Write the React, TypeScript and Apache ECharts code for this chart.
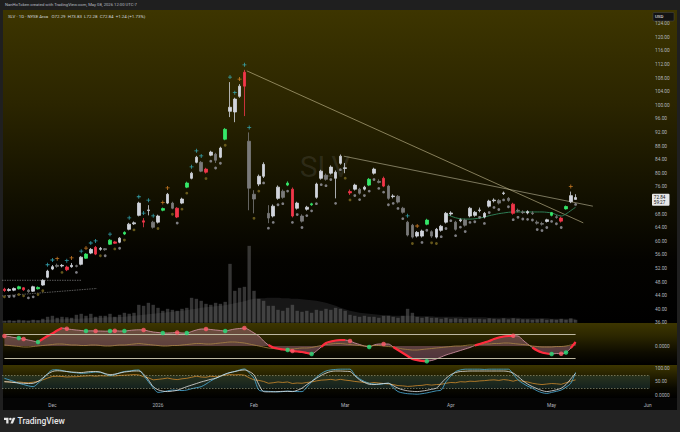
import { useEffect, useRef } from "react";
import * as echarts from "echarts";

// ---- calendar -------------------------------------------------------------
// 135 daily slots: Nov 14 2025 .. Jun 2 2026 (the last ones stay empty)
const SLOTS = 135;
const holidays = ["2025-11-27", "2025-12-25", "2026-01-01", "2026-01-19", "2026-02-16", "2026-04-03", "2026-05-25"];
const monthNames = ["Jan", "Feb", "Mar", "Apr", "May", "Jun", "Jul", "Aug", "Sep", "Oct", "Nov", "Dec"];

function tradingDays(first: string, count: number): string[] {
  const out: string[] = [];
  const d = new Date(first + "T00:00:00Z");
  while (out.length < count) {
    const iso = d.toISOString().slice(0, 10);
    const wd = d.getUTCDay();
    if (wd !== 0 && wd !== 6 && !holidays.includes(iso)) out.push(iso);
    d.setUTCDate(d.getUTCDate() + 1);
  }
  return out;
}
const dates = tradingDays("2025-11-14", SLOTS);

// ---- price data: [open, high, low, close] ---------------------------------
const ohlc = [
  [45.9, 46.3, 45.1, 45.5], [45.5, 46.2, 45.2, 45.8], [45.6, 46.4, 45.3, 46.1], [46.0, 46.9, 45.8, 46.6], [46.3, 46.5, 45.4, 45.7],
  [45.6, 45.9, 44.8, 45.2], [45.3, 46.9, 45.1, 46.6], [46.0, 46.7, 45.8, 46.4], [47.1, 48.8, 46.9, 48.5], [49.4, 51.6, 49.1, 51.2],
  [51.8, 53.0, 51.5, 52.5], [52.9, 53.4, 52.2, 52.6], [52.7, 53.3, 52.3, 52.9], [52.4, 52.8, 51.2, 51.6], [52.5, 53.6, 52.2, 52.9],
  [52.8, 53.1, 52.3, 52.6], [53.2, 55.6, 52.9, 55.3], [55.0, 56.5, 54.8, 56.2], [56.5, 58.0, 56.2, 57.6], [58.2, 58.6, 55.9, 56.2],
  [57.6, 58.3, 57.2, 57.9], [57.8, 58.0, 57.2, 57.5], [59.1, 60.6, 58.9, 60.3], [59.8, 60.1, 59.2, 59.4], [59.7, 61.2, 59.4, 60.9],
  [62.1, 62.9, 61.8, 62.6], [63.5, 65.4, 63.2, 65.0], [65.1, 65.8, 64.8, 65.4], [67.6, 71.6, 67.3, 71.2], [66.0, 66.8, 64.1, 65.6],
  [69.0, 70.6, 67.6, 69.2], [65.6, 66.0, 63.7, 64.1], [65.6, 67.8, 65.2, 67.4], [69.1, 69.9, 68.8, 69.6], [71.2, 74.2, 70.9, 73.8],
  [71.2, 71.6, 69.4, 69.7], [69.7, 70.0, 66.8, 67.1], [71.2, 72.8, 70.9, 72.4], [75.9, 77.5, 75.6, 77.1], [78.5, 80.4, 78.2, 80.0],
  [83.2, 85.1, 82.9, 84.7], [83.2, 83.6, 80.3, 80.6], [81.2, 81.6, 79.9, 80.3], [85.3, 86.6, 85.0, 86.2], [85.6, 86.0, 83.0, 83.8],
  [84.7, 87.8, 84.4, 87.4], [90.0, 93.3, 89.7, 92.9], [98.2, 106.8, 96.5, 99.4], [98.0, 102.2, 95.0, 101.8], [102.6, 106.2, 102.2, 105.6],
  [109.7, 110.4, 96.8, 105.6], [89.4, 92.0, 69.1, 75.6], [73.8, 75.0, 68.2, 72.4], [76.8, 79.6, 76.2, 79.1], [79.1, 83.2, 78.6, 82.6],
  [68.2, 70.6, 65.3, 66.8], [67.4, 70.8, 67.0, 70.3], [72.6, 76.4, 72.2, 75.9], [74.7, 75.2, 72.5, 72.9], [76.5, 77.6, 76.2, 77.1],
  [75.3, 75.8, 67.0, 67.4], [69.7, 71.6, 69.3, 71.2], [67.4, 67.9, 65.5, 65.9], [69.4, 70.4, 69.0, 70.0], [70.7, 71.3, 70.4, 71.0],
  [72.9, 77.2, 72.5, 76.8], [78.5, 81.0, 78.1, 80.6], [79.4, 79.9, 77.8, 78.2], [80.0, 82.3, 79.6, 81.8], [78.5, 80.8, 72.6, 80.3],
  [82.9, 85.5, 82.5, 85.0], [81.4, 83.0, 80.0, 81.6], [74.6, 75.2, 73.6, 74.2], [75.3, 76.9, 74.9, 76.5], [75.3, 75.7, 73.7, 74.1],
  [75.3, 76.3, 74.9, 75.9], [76.5, 78.6, 76.2, 78.2], [80.0, 81.6, 79.6, 81.2], [77.6, 78.2, 77.0, 77.3], [78.5, 79.0, 75.9, 76.2],
  [76.2, 76.6, 72.2, 72.6], [73.1, 73.8, 72.6, 73.3], [73.2, 73.6, 71.1, 71.5], [69.7, 70.1, 68.1, 68.5], [65.6, 66.0, 61.4, 61.8],
  [64.7, 65.1, 60.8, 61.2], [61.5, 63.0, 61.1, 62.6], [61.5, 63.4, 61.1, 63.0], [65.0, 66.6, 64.7, 66.2], [62.8, 63.2, 61.0, 61.5],
  [61.2, 63.9, 60.8, 63.5], [63.2, 64.8, 62.8, 64.4], [65.6, 68.6, 65.2, 68.2], [68.0, 68.8, 67.5, 68.3], [65.6, 66.0, 63.1, 63.5],
  [66.0, 66.7, 65.6, 66.3], [66.2, 66.6, 64.3, 64.7], [67.4, 70.1, 67.0, 69.7], [67.6, 68.9, 67.2, 68.5], [69.0, 69.9, 68.5, 69.2],
  [67.1, 68.6, 66.7, 68.2], [70.3, 72.2, 69.9, 71.8], [71.9, 72.6, 71.4, 72.1], [72.0, 72.4, 70.8, 71.2], [74.0, 74.6, 73.6, 74.2],
  [72.6, 73.0, 71.6, 72.0], [70.9, 71.3, 67.8, 68.2], [69.1, 69.6, 68.5, 68.9], [68.6, 69.1, 68.0, 68.4], [68.3, 69.1, 67.9, 68.7],
  [68.3, 68.8, 67.7, 68.1], [65.6, 66.1, 64.9, 65.3], [65.2, 65.7, 64.6, 65.0], [65.8, 66.6, 65.5, 66.3], [67.6, 68.6, 67.3, 68.4],
  [67.2, 67.7, 66.6, 67.0], [66.8, 67.2, 65.5, 65.9], [69.5, 70.5, 69.3, 70.2], [71.6, 74.6, 71.2, 73.4], [72.29, 73.83, 72.28, 72.84],
];

// bars flagged by the signal study (also the dots in the oscillator pane)
const bullBars = [3, 7, 17, 22, 25, 33, 38, 46, 59, 64, 76, 88, 114, 117];
const bearBars = [0, 4, 13, 19, 23, 29, 36, 42, 50, 60, 72, 79, 106, 116];

// markers drawn by the study above highs / below lows
const tealCrosses = [9, 10, 13, 16, 18, 19, 22, 26, 28, 29, 30, 31, 39, 40, 41, 47, 48, 50, 51, 84];
const orangeCrosses = [11, 14, 17, 33, 34, 49, 86, 118];
const oliveDots = [0, 3, 4, 7, 8, 12, 20, 23, 25, 27, 32, 35, 37, 38, 42, 46, 52, 53, 71, 72, 85, 89, 90];
const grayDots = [
  1, 2, 5, 6, 15, 21, 24, 36, 43, 44, 45, 54, 55, 56, 57, 58, 59, 60, 61, 62, 63, 64, 65, 66, 67, 68, 69, 70,
  73, 74, 75, 76, 77, 78, 79, 80, 81, 82, 83, 87, 88, 91, 92, 93, 94, 95, 96, 97, 98, 99, 100, 101, 102, 103,
  104, 105, 106, 107, 108, 109, 110, 111, 112, 113, 114, 115, 116, 119,
];

// volume, millions of shares
const volume = [
  4, 5, 4, 6, 5, 4, 6, 5, 8,
  12, 14, 10, 12, 11, 10, 16, 18, 14, 18, 12, 14,
  14, 18, 12, 16, 20, 18, 20,
  36, 34, 40, 36, 30,
  24, 28, 26, 24, 28, 30,
  50, 48, 44,
  38, 36, 40, 38,
  42, 118, 64, 70, 72, 154, 64, 48, 44, 34, 34, 26, 24, 30, 36,
  24, 22, 24, 20, 26, 24, 28, 26, 30, 28, 24,
  16, 14, 12, 14, 12, 12, 10, 14, 14, 12, 10, 14,
  28, 20,
  12, 10, 12, 10, 10, 8, 10, 8, 9, 8, 8, 9, 8, 8, 7, 9, 8, 7, 9, 7, 9, 8, 7, 7, 6, 7, 8, 6, 7, 6, 8, 6, 9, 6,
];
const volumeAvg = [
  4, 4, 4, 4.5, 4.5, 5, 5, 5, 5.5, 6,
  6.5, 7, 7, 7.5, 8, 8, 8.5, 9, 9.5, 10,
  10, 10.5, 11, 11, 11.5, 12, 13, 14, 15, 16,
  17, 18, 19, 20, 21, 22, 23, 24, 25, 27,
  28, 30, 31, 32, 33, 34, 35, 37, 39, 41,
  43, 46, 48, 49, 49, 50, 50, 50, 49, 49,
  48, 48, 47, 46, 45, 44, 42, 40, 37, 34,
  30, 27, 24, 22, 20, 19, 18, 17, 16, 15,
  15, 14, 14, 14, 14, 14, 13, 13, 13, 13,
  12, 12, 12, 12, 12, 12, 11, 11, 11, 11,
  11, 10, 10, 10, 10, 10, 10, 10, 9, 9,
  9, 9, 9, 9, 8, 8, 8, 8, 8, 8,
];

// short moving average shown from April on
const aprilAvgStart = 92;
const aprilAvg = [
  68.0, 67.4, 66.9, 66.6, 66.5, 66.5, 66.6, 66.8, 67.1, 67.5,
  67.8, 68.1, 68.3, 68.5, 68.6, 68.6, 68.6, 68.6, 68.6, 68.6,
  68.6, 68.5, 68.3, 67.8, 67.4, 68.0, 69.0, 70.0,
];

// hand-drawn lines: [bar index, price]
const trendFromTop = [[50.5, 110.1], [120.6, 65.4]];
const trendFromMar = [[70.7, 85.0], [122.6, 70.3]];
const novShelf = [[-0.5, 48.5], [16, 48.5]];
const novBase = [[-0.5, 43.9], [19.3, 46.1]];

// ---- oscillator pane ------------------------------------------------------
const osc = [
  1.0, 0.95, 0.85, 0.8, 0.7, 0.6, 0.5, 0.4, 0.7, 1.0,
  1.25, 1.55, 1.8, 1.72, 1.65, 1.6, 1.55, 1.5, 1.52, 1.5,
  1.5, 1.48, 1.5, 1.52, 1.5, 1.5, 1.55, 1.6, 1.62, 1.6,
  1.5, 1.4, 1.35, 1.3, 1.3, 1.32, 1.35, 1.3, 1.3, 1.45,
  1.6, 1.7, 1.7, 1.65, 1.6, 1.55, 1.5, 1.6, 1.7, 1.75,
  1.8, 1.6, 1.3, 1.0, 0.5, 0.1, -0.15, -0.25, -0.35, -0.4,
  -0.5, -0.55, -0.6, -0.7, -0.8, -0.5, -0.1, 0.3, 0.45, 0.55,
  0.6, 0.6, 0.5, 0.3, 0.15, 0.0, -0.1, 0.1, 0.2, 0.2,
  0.2, -0.1, -0.4, -0.7, -1.0, -1.3, -1.42, -1.5, -1.52, -1.45,
  -1.3, -1.1, -0.9, -0.75, -0.6, -0.45, -0.3, -0.15, 0.05, 0.2,
  0.35, 0.5, 0.7, 0.85, 0.95, 1.0, 1.02, 1.0, 0.6, 0.2,
  -0.15, -0.45, -0.65, -0.75, -0.8, -0.75, -0.78, -0.65, -0.2, 0.4,
];
const oscSignal = [
  0.1, 0.05, 0.0, -0.05, -0.1, -0.1, -0.05, 0.0, 0.05, 0.1,
  0.15, 0.2, 0.2, 0.15, 0.1, 0.1, 0.05, 0.05, 0.1, 0.1,
  0.05, 0.0, 0.0, 0.05, 0.1, 0.1, 0.15, 0.2, 0.25, 0.2,
  0.15, 0.1, 0.05, 0.0, 0.0, 0.05, 0.05, 0.1, 0.15, 0.2,
  0.25, 0.25, 0.2, 0.2, 0.25, 0.3, 0.35, 0.4, 0.4, 0.35,
  0.3, 0.2, 0.1, 0.0, -0.1, -0.2, -0.25, -0.3, -0.3, -0.3,
  -0.3, -0.25, -0.2, -0.2, -0.15, -0.05, 0.05, 0.15, 0.2, 0.25,
  0.25, 0.2, 0.15, 0.1, 0.05, 0.0, 0.0, 0.05, 0.05, 0.0,
  -0.05, -0.1, -0.2, -0.3, -0.35, -0.4, -0.4, -0.35, -0.3, -0.25,
  -0.2, -0.15, -0.1, -0.05, 0.0, 0.0, 0.05, 0.1, 0.1, 0.15,
  0.2, 0.2, 0.25, 0.25, 0.3, 0.3, 0.25, 0.2, 0.15, 0.1,
  0.0, -0.05, -0.1, -0.1, -0.1, -0.05, -0.05, 0.0, 0.1, 0.2,
];
// stretches where the oscillator line is drawn thick red
const oscHotRanges = [[7, 12], [55, 64], [66, 71], [81, 88], [98, 106], [110, 114], [118, 119]];
const oscBands = [1.2, -1.25];

// ---- stochastic / RSI pane ------------------------------------------------
const stochK = [
  51, 50, 48, 46, 45, 44, 45, 52, 65, 80,
  90, 93, 92, 90, 88, 87, 86, 88, 90, 90,
  88, 82, 78, 80, 84, 88, 90, 92, 92, 80,
  58, 32, 20, 15, 13, 15, 18, 25, 32, 38,
  44, 50, 55, 60, 64, 72, 80, 86, 90, 94,
  96, 90, 77, 40, 13, 12, 12, 13, 14, 14,
  13, 18, 26, 40, 52, 64, 75, 84, 90, 92,
  92, 91, 90, 74, 58, 48, 41, 40, 42, 44,
  45, 36, 26, 20, 16, 14, 13, 15, 18, 22,
  26, 45, 64, 78, 86, 90, 91, 92, 92, 92,
  92, 92, 92, 92, 92, 90, 84, 71, 55, 42,
  32, 24, 17, 13, 16, 20, 26, 40, 62, 83,
];
const stochD = [
  64, 58, 52, 45, 40, 35, 32, 45, 62, 82,
  96, 97, 94, 90, 87, 85, 83, 84, 86, 88,
  87, 80, 74, 78, 85, 90, 92, 95, 96, 75,
  51, 28, 10, 12, 16, 19, 18, 17, 19, 24,
  28, 32, 42, 54, 64, 72, 80, 86, 90, 96,
  100, 85, 64, 19, 15, 14, 13, 12, 13, 15,
  14, 13, 13, 30, 51, 68, 82, 92, 96, 98,
  99, 99, 99, 77, 62, 52, 45, 42, 41, 43,
  45, 28, 13, 8, 5, 4, 3, 5, 8, 12,
  16, 19, 51, 72, 90, 96, 99, 99, 99, 99,
  98, 99, 99, 99, 99, 99, 80, 58, 45, 34,
  26, 16, 9, 6, 10, 14, 19, 30, 45, 87,
];
const rsi = [
  51, 50, 48, 50, 48, 47, 49, 52, 58, 65,
  71, 72, 71, 69, 70, 70, 72, 73, 74, 72,
  74, 73, 74, 73, 75, 76, 77, 78, 77, 70,
  66, 58, 60, 62, 65, 61, 59, 62, 64, 68,
  72, 69, 68, 72, 70, 73, 76, 78, 77, 78,
  76, 66, 58, 56, 52, 45, 47, 50, 48, 50,
  44, 46, 45, 48, 50, 54, 57, 58, 60, 57,
  60, 57, 55, 52, 50, 49, 45, 48, 46, 44,
  42, 40, 36, 35, 33, 34, 36, 37, 40, 38,
  40, 41, 45, 48, 47, 51, 50, 53, 52, 54,
  55, 57, 58, 56, 59, 57, 53, 58, 52, 50,
  45, 42, 40, 42, 44, 43, 41, 47, 53, 58,
];
const stochBands = [75, 25];

const headerCredit = "NanHoToken created with TradingView.com, May 08, 2026 12:00 UTC-7";
const headerSymbol = "SLV · 1D · NYSE Arca   O72.29  H73.83  L72.28  C72.84  +1.24 (+1.73%)";
const barCountdown = "59:27";

// ---------------------------------------------------------------------------
const FONT = "Roboto, 'Noto Sans', sans-serif";
const AXIS_TEXT = "#b2b5be";
const CROSS = "path://M2 0h1v2h2v1h-2v2h-1v-2h-2v-1h2z";

echarts.graphic.registerShape(
  "tvlogo",
  echarts.graphic.extendPath("M14 22H7V11H0V4h14v18zM28 22h-8l7.5-18h8L28 22zM24 8a4 4 0 1 1-8 0a4 4 0 1 1 8 0z", {})
);

const fade = (stops: [number, string][]) =>
  new echarts.graphic.LinearGradient(0, 0, 0, 1, stops.map(([offset, color]) => ({ offset, color })));

export default function App() {
  const ref = useRef<HTMLDivElement>(null);

  useEffect(() => {
    if (!ref.current) return;
    document.body.style.margin = "0";
    document.body.style.background = "#1f1f1f";
    const chart = echarts.init(ref.current, null, { renderer: "svg" });

    const candleData = ohlc.map(([o, h, l, c], i) => {
      const tone = bullBars.includes(i) ? "#35e86a" : bearBars.includes(i) ? "#f2364a" : null;
      return tone
        ? { value: [o, c, l, h], itemStyle: { color: tone, color0: tone, borderColor: tone, borderColor0: tone } }
        : { value: [o, c, l, h] };
    });
    const aprilData = ohlc.map((_, i) => (i >= aprilAvgStart ? aprilAvg[i - aprilAvgStart] : null));
    const oscHot = osc.map((v, i) => (oscHotRanges.some(([a, b]) => i >= a && i <= b) ? v : null));
    const lastBar = ohlc.length - 1;
    const lastClose = ohlc[lastBar][3];

    const hiddenAxis = { axisLine: { show: false }, axisTick: { show: false }, splitLine: { show: false } };
    const drawn = (data: number[][], color: string, type: any = "solid") => ({
      type: "line",
      xAxisIndex: 1,
      yAxisIndex: 0,
      data,
      symbol: "none",
      silent: true,
      z: 4,
      lineStyle: { color, width: 0.8, type },
    });
    const markers = (idx: number[], row: number, symbol: string, size: number, offset: number, color: string) => ({
      type: "scatter",
      xAxisIndex: 0,
      yAxisIndex: 0,
      data: idx.map((i) => [i, ohlc[i][row]]),
      symbol,
      symbolSize: size,
      symbolOffset: [0, offset],
      itemStyle: { color },
      silent: true,
      z: 6,
    });

    const option: any = {
      animation: false,
      backgroundColor: "#1f1f1f",
      textStyle: { fontFamily: FONT },
      grid: [
        { left: 2, right: 30, top: 10, height: 312.8 },
        { left: 2, right: 30, top: 323, height: 42 },
        { left: 2, right: 30, top: 365, height: 33 },
      ],
      xAxis: [
        { type: "category", gridIndex: 0, data: dates, show: false },
        { type: "value", gridIndex: 0, min: -0.5, max: SLOTS - 0.5, show: false },
        { type: "category", gridIndex: 1, data: dates, show: false },
        {
          type: "category",
          gridIndex: 2,
          data: dates,
          ...hiddenAxis,
          axisLabel: {
            color: AXIS_TEXT,
            fontSize: 4.8,
            fontFamily: FONT,
            margin: 4.5,
            interval: (i: number) => i > 0 && dates[i].slice(5, 7) !== dates[i - 1].slice(5, 7),
            formatter: (v: string) => (v.slice(5, 7) === "01" ? v.slice(0, 4) : monthNames[Number(v.slice(5, 7)) - 1]),
          },
        },
      ],
      yAxis: [
        {
          type: "value",
          gridIndex: 0,
          position: "right",
          min: 36,
          max: 128,
          interval: 4,
          ...hiddenAxis,
          axisLabel: {
            color: AXIS_TEXT,
            fontSize: 4.8,
            fontFamily: FONT,
            margin: 5,
            showMaxLabel: false,
            // the scale leaves out the tick that the last-price tag covers
            formatter: (v: number) => (Math.abs(v - lastClose) < 2 ? "" : v.toFixed(2)),
          },
        },
        { type: "value", gridIndex: 0, min: 0, max: 626, show: false },
        {
          type: "value",
          gridIndex: 1,
          position: "right",
          min: -1.9,
          max: 2.3,
          ...hiddenAxis,
          axisLabel: { color: AXIS_TEXT, fontSize: 4.8, fontFamily: FONT, margin: 5, customValues: [0], formatter: () => "0.0000" },
        },
        {
          type: "value",
          gridIndex: 2,
          position: "right",
          min: -11.5,
          max: 115,
          ...hiddenAxis,
          axisLabel: {
            color: AXIS_TEXT,
            fontSize: 4.8,
            fontFamily: FONT,
            margin: 5,
            customValues: [0, 50, 100],
            formatter: (v: number) => (v === 0 ? "0.0000" : v.toFixed(2)),
          },
        },
      ],
      graphic: [
        {
          id: "bg-main", type: "rect", z: -10, silent: true,
          shape: { x: 3, y: 10, width: 674, height: 313 },
          style: { fill: fade([[0, "#3d3500"], [0.3, "#2b2500"], [0.6, "#121000"], [0.8, "#040300"], [1, "#000000"]]) },
        },
        {
          id: "bg-osc", type: "rect", z: -10, silent: true,
          shape: { x: 3, y: 323, width: 674, height: 42 },
          style: { fill: fade([[0, "#3d3600"], [0.3, "#2c2700"], [0.7, "#0e0c00"], [1, "#000000"]]) },
        },
        {
          id: "bg-stoch", type: "rect", z: -10, silent: true,
          shape: { x: 3, y: 365, width: 674, height: 33 },
          style: { fill: fade([[0, "#3d3600"], [0.3, "#262100"], [0.7, "#0a0900"], [1, "#000000"]]) },
        },
        {
          id: "bg-axis", type: "rect", z: -10, silent: true,
          shape: { x: 3, y: 398, width: 674, height: 12 },
          style: { fill: "#050505" },
        },
        {
          id: "bg-foot", type: "rect", z: -10, silent: true,
          shape: { x: 0, y: 410, width: 680, height: 22 },
          style: { fill: "#232323" },
        },
        {
          id: "watermark", type: "text", z: 1, silent: true, x: 325, y: 166,
          style: { text: "SLV", fontSize: 30, fontFamily: FONT, fill: "rgba(150,150,150,0.16)", align: "center", verticalAlign: "middle" },
        },
        {
          id: "credit", type: "text", z: 100, x: 5, y: 4.5,
          style: { text: headerCredit, fontSize: 4.2, fontFamily: FONT, fill: "#b8bbc3", verticalAlign: "middle" },
        },
        {
          id: "symbol", type: "text", z: 100, x: 8, y: 16,
          style: { text: headerSymbol, fontSize: 4.4, fontFamily: FONT, fill: "#d1d4dc", verticalAlign: "middle" },
        },
        {
          id: "usd-box", type: "rect", z: 100,
          shape: { x: 653, y: 12.5, width: 21, height: 8.5, r: 1 },
          style: { fill: "#131313", stroke: "#4a4a4a", lineWidth: 0.5 },
        },
        {
          id: "usd", type: "text", z: 101, x: 655, y: 16.8,
          style: { text: "USD", fontSize: 4.4, fontFamily: FONT, fill: "#ffffff", verticalAlign: "middle" },
        },
        {
          id: "logo", type: "tvlogo", z: 100, x: 4, y: 416.4, scaleX: 0.32, scaleY: 0.32,
          style: { fill: "#e6e6e6" },
        },
        {
          id: "brand", type: "text", z: 100, x: 17.5, y: 421,
          style: { text: "TradingView", fontSize: 8.5, fontFamily: FONT, fontWeight: 500, fill: "#e6e6e6", verticalAlign: "middle" },
        },
      ],
      series: [
        {
          type: "bar",
          xAxisIndex: 0,
          yAxisIndex: 1,
          data: volume,
          barWidth: 3.4,
          itemStyle: { color: "rgba(130,130,130,0.4)" },
          silent: true,
          z: 1,
        },
        {
          type: "line",
          xAxisIndex: 0,
          yAxisIndex: 1,
          data: volumeAvg,
          symbol: "none",
          smooth: 0.3,
          lineStyle: { width: 0 },
          areaStyle: { color: "rgba(110,110,110,0.3)" },
          silent: true,
          z: 1,
        },
        drawn(novShelf, "rgba(140,140,140,0.8)", [1.5, 1]),
        drawn(novBase, "rgba(140,140,140,0.8)", [1.5, 1]),
        drawn(trendFromTop, "rgba(205,195,150,0.75)"),
        drawn(trendFromMar, "rgba(205,200,165,0.7)"),
        {
          type: "line",
          xAxisIndex: 0,
          yAxisIndex: 0,
          data: aprilData,
          symbol: "none",
          smooth: 0.3,
          silent: true,
          z: 4,
          lineStyle: { color: "#2f7d55", width: 1 },
        },
        {
          type: "candlestick",
          xAxisIndex: 0,
          yAxisIndex: 0,
          data: candleData,
          barWidth: 3.2,
          silent: true,
          z: 5,
          itemStyle: { color: "#d1d4dc", color0: "#7a7a7a", borderColor: "#d1d4dc", borderColor0: "#7a7a7a", borderWidth: 0.8 },
        },
        markers(tealCrosses, 1, CROSS, 4, -5, "#3cc3d2"),
        markers(orangeCrosses, 1, CROSS, 4, -5, "#f0922c"),
        markers(grayDots, 2, "circle", 2.8, 5, "#9c9ca4"),
        markers(oliveDots, 2, "circle", 2.8, 5, "#7d6c22"),

        // oscillator pane
        {
          type: "line",
          xAxisIndex: 2,
          yAxisIndex: 2,
          data: osc,
          symbol: "none",
          smooth: 0.3,
          silent: true,
          lineStyle: { color: "rgba(215,150,170,0.9)", width: 0.9 },
          areaStyle: { color: "rgba(200,130,160,0.55)" },
          markLine: {
            silent: true,
            symbol: ["none", "none"],
            label: { show: false },
            lineStyle: { color: "#bdb8a0", width: 1, type: "solid" },
            data: oscBands.map((v) => [{ coord: [0, v] }, { coord: [lastBar, v] }]),
          },
        },
        {
          type: "line",
          xAxisIndex: 2,
          yAxisIndex: 2,
          data: oscSignal,
          symbol: "none",
          smooth: 0.3,
          silent: true,
          lineStyle: { color: "#a98545", width: 0.8 },
        },
        {
          type: "line",
          xAxisIndex: 2,
          yAxisIndex: 2,
          data: oscHot,
          symbol: "none",
          smooth: 0.3,
          silent: true,
          z: 3,
          lineStyle: { color: "#ff2b3d", width: 2.2 },
        },
        {
          type: "scatter",
          xAxisIndex: 2,
          yAxisIndex: 2,
          data: bullBars.map((i) => [i, osc[i]]),
          symbolSize: 4.5,
          itemStyle: { color: "#24e07a" },
          silent: true,
          z: 5,
        },
        {
          type: "scatter",
          xAxisIndex: 2,
          yAxisIndex: 2,
          data: bearBars.map((i) => [i, osc[i]]),
          symbolSize: 4.5,
          itemStyle: { color: "#ff5a68" },
          silent: true,
          z: 5,
        },

        // stochastic / RSI pane
        {
          type: "line",
          xAxisIndex: 3,
          yAxisIndex: 3,
          data: rsi,
          symbol: "none",
          silent: true,
          lineStyle: { color: "#d08a2c", width: 0.8 },
          markArea: {
            silent: true,
            itemStyle: { color: "rgba(60,125,135,0.22)" },
            data: [[{ yAxis: stochBands[0] }, { yAxis: stochBands[1] }]],
          },
          markLine: {
            silent: true,
            symbol: ["none", "none"],
            label: { show: false },
            lineStyle: { color: "rgba(200,195,160,0.6)", width: 0.8, type: [1.5, 1.5] },
            data: stochBands.map((v) => ({ yAxis: v })),
          },
        },
        {
          type: "line",
          xAxisIndex: 3,
          yAxisIndex: 3,
          data: stochD,
          symbol: "none",
          smooth: 0.3,
          silent: true,
          lineStyle: { color: "#4fb3e0", width: 0.8 },
        },
        {
          type: "line",
          xAxisIndex: 3,
          yAxisIndex: 3,
          data: stochK,
          symbol: "none",
          smooth: 0.3,
          silent: true,
          lineStyle: { color: "#e4e4e4", width: 0.8 },
        },
      ],
    };

    chart.setOption(option);

    // last-price tag on the price scale
    const py = chart.convertToPixel({ yAxisIndex: 0 }, lastClose) as number;
    chart.setOption({
      graphic: [
        {
          id: "last-box", type: "rect", z: 110,
          shape: { x: 652, y: py - 3.8, width: 17.5, height: 12, r: 1 },
          style: { fill: "#e8e8e8" },
        },
        {
          id: "last-price", type: "text", z: 111, x: 653.8, y: py - 0.2,
          style: { text: lastClose.toFixed(2), fontSize: 4.6, fontFamily: FONT, fill: "#131313", verticalAlign: "middle" },
        },
        {
          id: "last-timer", type: "text", z: 111, x: 653.8, y: py + 5.2,
          style: { text: barCountdown, fontSize: 4.6, fontFamily: FONT, fill: "#131313", verticalAlign: "middle" },
        },
      ],
    });

    return () => chart.dispose();
  }, []);

  return <div ref={ref} style={{ position: "fixed", left: 0, top: 0, width: 680, height: 432 }} />;
}
